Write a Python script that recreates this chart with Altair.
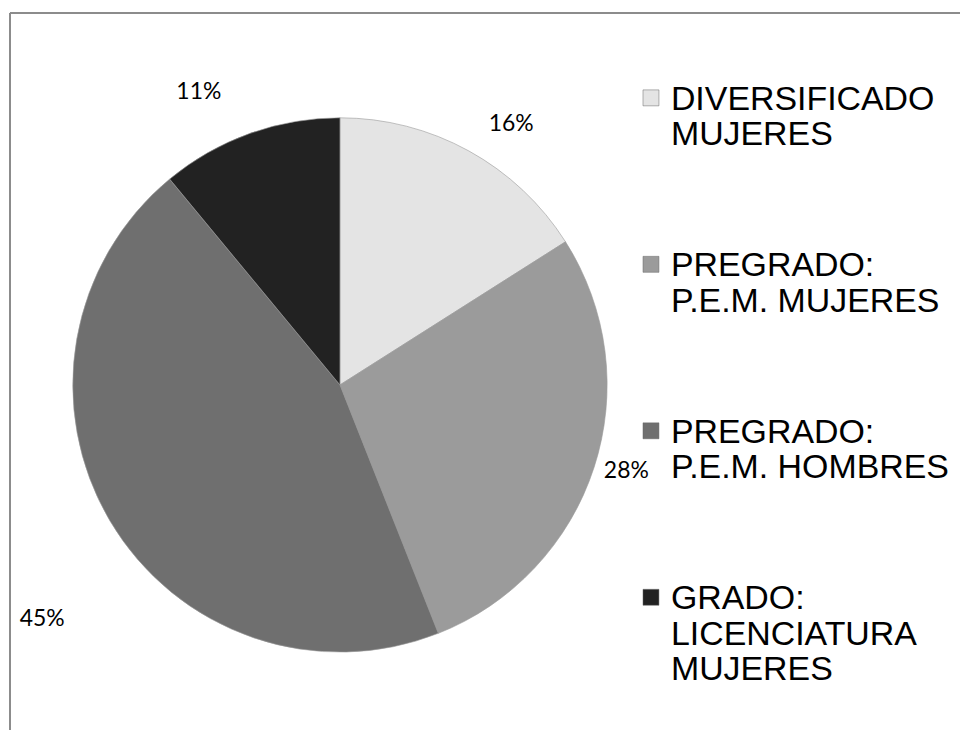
import altair as alt
import pandas as pd

# ---- data ----
categories = [
    "DIVERSIFICADO\nMUJERES",
    "PREGRADO:\nP.E.M. MUJERES",
    "PREGRADO:\nP.E.M. HOMBRES",
    "GRADO:\nLICENCIATURA\nMUJERES",
]
values = [16, 28, 45, 11]
pct_labels = ["16%", "28%", "45%", "11%"]

# ---- style (label placement: radius in px, angular nudge in % of circle) ----
colors = ["#e4e4e4", "#9b9b9b", "#6f6f6f", "#222222"]
label_radius = {"16%": 313, "28%": 300, "45%": 380, "11%": 326}
label_nudge = {"16%": 1.25, "28%": -0.35, "45%": -2.1, "11%": -1.65}

df = pd.DataFrame({
    "cat": categories,
    "value": values,
    "label": pct_labels,
    "idx": list(range(len(values))),
})
df["lr"] = df["label"].map(label_radius)
df["nudge"] = df["label"].map(label_nudge)

cx, cy, R = 333, 377, 268
color_scale = alt.Scale(domain=categories, range=colors)

pie = alt.Chart(df).mark_arc(outerRadius=R, stroke="#9a9a9a", strokeWidth=0.6).encode(
    theta=alt.Theta("value:Q", stack=True, scale=alt.Scale(domain=[0, 100])),
    order=alt.Order("idx:Q"),
    x=alt.value(cx),
    y=alt.value(cy),
    color=alt.Color("cat:N", scale=color_scale, legend=None),
)

text = alt.Chart(df).transform_window(
    cum="sum(value)", sort=[alt.SortField("idx")]
).transform_calculate(
    mid="datum.cum - datum.value / 2 + datum.nudge"
).mark_text(
    font="Lato", fontSize=23, color="#000000", align="center", baseline="middle"
).encode(
    theta=alt.Theta("mid:Q", stack=None, scale=alt.Scale(domain=[0, 100])),
    radius=alt.Radius("lr:Q", scale=None, stack=None),
    x=alt.value(cx),
    y=alt.value(cy),
    text="label:N",
)

# legend (drawn through a point scale on y)
leg_y = alt.Y("cat:N", sort=categories, axis=None,
              scale=alt.Scale(type="point", domain=categories, range=[89, 590], padding=0))

leg_sym = alt.Chart(df).mark_square(size=256, opacity=1, stroke="#666666", strokeWidth=0.5).encode(
    x=alt.value(645),
    y=leg_y,
    color=alt.Color("cat:N", scale=color_scale, legend=None),
)

leg_txt = alt.Chart(df).transform_calculate(
    lines="split(datum.cat, '\\n')"
).mark_text(
    font="Liberation Sans", fontSize=34, color="#000000", align="left",
    baseline="alphabetic", dy=12, lineHeight=35.5,
).encode(
    x=alt.value(665),
    y=leg_y,
    text="lines:N",
)

frame_left = alt.Chart(df).mark_rule(color="#8c8c8c", strokeWidth=2).encode(
    x=alt.value(2), y=alt.value(4), y2=alt.value(740)
)
frame_top = alt.Chart(df).mark_rule(color="#8c8c8c", strokeWidth=2).encode(
    x=alt.value(2), x2=alt.value(970), y=alt.value(4)
)

chart = alt.layer(frame_left, frame_top, pie, text, leg_sym, leg_txt).properties(
    width=955,
    height=722,
    padding=0,
    autosize=alt.AutoSizeParams(type="none"),
    background="#ffffff",
).configure_view(stroke=None)

chart.save("out.html", embed_options={"renderer": "svg", "actions": False})
